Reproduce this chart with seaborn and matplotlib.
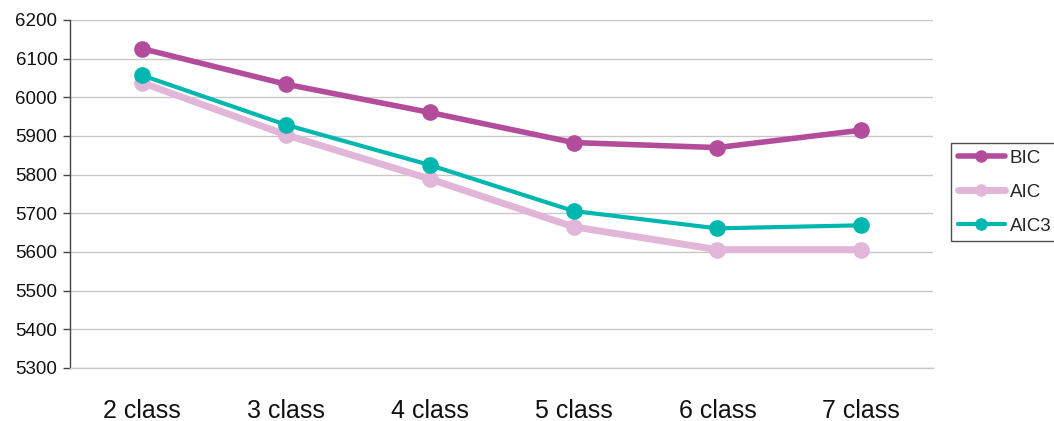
import matplotlib
matplotlib.use("Agg")
import matplotlib.pyplot as plt
import seaborn as sns
import pandas as pd

# Model fit criteria by number of latent classes
classes = ["2 class", "3 class", "4 class", "5 class", "6 class", "7 class"]
bic = [6126, 6034, 5961, 5883, 5870, 5915]
aic = [6038, 5903, 5789, 5665, 5606, 5606]
aic3 = [6057, 5929, 5825, 5706, 5661, 5669]

y_ticks = [5300, 5400, 5500, 5600, 5700, 5800, 5900, 6000, 6100, 6200]

sns.set_theme(style="white")
plt.rcParams["font.family"] = ["Liberation Sans", "DejaVu Sans"]

fig = plt.figure(figsize=(10.54, 4.21), dpi=100)
ax = fig.add_axes([0.0664, 0.126, 0.819, 0.8265])

series = [
    ("AIC", aic, "#E2B6D8", 5.0, 12),
    ("AIC3", aic3, "#00B7B0", 3.0, 12),
    ("BIC", bic, "#B24C9B", 4.0, 12),
]
handles = {}
for name, vals, color, lw, ms in series:
    df = pd.DataFrame({"cls": classes, "val": vals})
    sns.lineplot(data=df, x="cls", y="val", ax=ax, color=color, linewidth=lw,
                 marker="o", markersize=ms, markeredgewidth=0, sort=False,
                 label=name)
    handles[name] = ax.lines[-1]

ax.set_xlim(-0.5, 5.5)
ax.set_ylim(5300, 6200)
ax.set_yticks(y_ticks)
ax.set_yticklabels([str(t) for t in y_ticks], fontsize=13.5, color="#111111")
ax.set_xticks(range(len(classes)))
ax.set_xticklabels(classes, fontsize=18, color="#111111")
ax.tick_params(axis="x", length=0, pad=22)
ax.tick_params(axis="y", length=5, width=1, color="#444444", pad=4, left=True)

ax.grid(axis="y", color="#C8C8C8", linewidth=1)
ax.set_axisbelow(True)
ax.set_xlabel("")
ax.set_ylabel("")
for side in ["top", "right"]:
    ax.spines[side].set_visible(False)
ax.spines["bottom"].set_color("#C8C8C8")
ax.spines["bottom"].set_linewidth(1)
ax.spines["left"].set_color("#444444")
ax.spines["left"].set_linewidth(1)

if ax.get_legend():
    ax.get_legend().remove()
leg = fig.legend([handles["BIC"], handles["AIC"], handles["AIC3"]],
                 ["BIC", "AIC", "AIC3"],
                 loc="upper left", bbox_to_anchor=(951 / 1054, 1 - 143 / 421),
                 bbox_transform=fig.transFigure,
                 frameon=True, fancybox=False, fontsize=13.5,
                 handlelength=2.55, handletextpad=0.22, labelspacing=0.9,
                 borderpad=0.35, borderaxespad=0, markerscale=0.75)
leg.get_frame().set_edgecolor("#222222")
leg.get_frame().set_linewidth(1)

fig.savefig("out.png", dpi=100)
